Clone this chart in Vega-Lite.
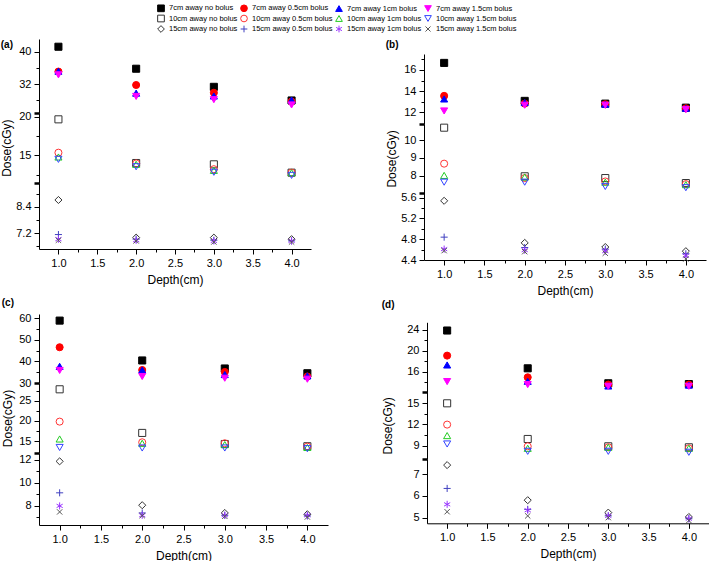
{
  "$schema": "https://vega.github.io/schema/vega-lite/v6.json",
  "padding": {"left": 0, "top": 2, "right": 0, "bottom": 0},
  "config": {
    "font": "Liberation Sans",
    "view": {"stroke": null},
    "point": {"opacity": 1, "size": 50, "strokeWidth": 1, "filled": false},
    "axis": {"grid": false, "domainColor": "#000", "tickColor": "#000", "labelColor": "#000", "titleColor": "#000",
      "labelFont": "Liberation Sans", "titleFont": "Liberation Sans", "labelFontSize": 11, "titleFontSize": 12,
      "titleFontWeight": "normal", "labelPadding": 3, "labelOverlap": false, "labelFlush": false},
    "title": {"fontSize": 10, "fontWeight": "bold", "anchor": "start", "frame": "bounds", "color": "#000"},
    "legend": {"orient": "none", "legendX": 116, "legendY": -37, "columns": 4, "direction": "horizontal", "gridAlign": "each",
      "labelFontSize": 7.5, "labelColor": "#000", "symbolSize": 45, "symbolStrokeWidth": 1, "rowPadding": -1.5, "columnPadding": 0,
      "labelOffset": 4, "padding": 2}
  },
  "data": {"values": [
    {"p":"a","s":"7cm away no bolus","x":1,"y":41.2},{"p":"a","s":"7cm away no bolus","x":2,"y":35.8},{"p":"a","s":"7cm away no bolus","x":3,"y":31.35},{"p":"a","s":"7cm away no bolus","x":4,"y":28.0},
    {"p":"a","s":"7cm away 0.5cm bolus","x":1,"y":35.1},{"p":"a","s":"7cm away 0.5cm bolus","x":2,"y":31.8},{"p":"a","s":"7cm away 0.5cm bolus","x":3,"y":29.9},{"p":"a","s":"7cm away 0.5cm bolus","x":4,"y":27.75},
    {"p":"a","s":"7cm away 1cm bolus","x":1,"y":35.2},{"p":"a","s":"7cm away 1cm bolus","x":2,"y":29.8},{"p":"a","s":"7cm away 1cm bolus","x":3,"y":29.1},{"p":"a","s":"7cm away 1cm bolus","x":4,"y":28.1},
    {"p":"a","s":"7cm away 1.5cm bolus","x":1,"y":34.3},{"p":"a","s":"7cm away 1.5cm bolus","x":2,"y":29.0},{"p":"a","s":"7cm away 1.5cm bolus","x":3,"y":28.2},{"p":"a","s":"7cm away 1.5cm bolus","x":4,"y":26.9},
    {"p":"a","s":"10cm away no bolus","x":1,"y":19.66},{"p":"a","s":"10cm away no bolus","x":2,"y":14.0},{"p":"a","s":"10cm away no bolus","x":3,"y":13.83},{"p":"a","s":"10cm away no bolus","x":4,"y":12.75},
    {"p":"a","s":"10cm away 0.5cm bolus","x":1,"y":15.34},{"p":"a","s":"10cm away 0.5cm bolus","x":2,"y":13.95},{"p":"a","s":"10cm away 0.5cm bolus","x":3,"y":13.2},{"p":"a","s":"10cm away 0.5cm bolus","x":4,"y":12.75},
    {"p":"a","s":"10cm away 1cm bolus","x":1,"y":14.78},{"p":"a","s":"10cm away 1cm bolus","x":2,"y":13.83},{"p":"a","s":"10cm away 1cm bolus","x":3,"y":13.05},{"p":"a","s":"10cm away 1cm bolus","x":4,"y":12.75},
    {"p":"a","s":"10cm away 1.5cm bolus","x":1,"y":14.48},{"p":"a","s":"10cm away 1.5cm bolus","x":2,"y":13.52},{"p":"a","s":"10cm away 1.5cm bolus","x":3,"y":12.8},{"p":"a","s":"10cm away 1.5cm bolus","x":4,"y":12.4},
    {"p":"a","s":"15cm away no bolus","x":1,"y":8.72},{"p":"a","s":"15cm away no bolus","x":2,"y":7.0},{"p":"a","s":"15cm away no bolus","x":3,"y":7.0},{"p":"a","s":"15cm away no bolus","x":4,"y":6.93},
    {"p":"a","s":"15cm away 0.5cm bolus","x":1,"y":7.14},{"p":"a","s":"15cm away 0.5cm bolus","x":2,"y":6.93},{"p":"a","s":"15cm away 0.5cm bolus","x":3,"y":6.88},{"p":"a","s":"15cm away 0.5cm bolus","x":4,"y":6.85},
    {"p":"a","s":"15cm away 1cm bolus","x":1,"y":6.93},{"p":"a","s":"15cm away 1cm bolus","x":2,"y":6.88},{"p":"a","s":"15cm away 1cm bolus","x":3,"y":6.85},{"p":"a","s":"15cm away 1cm bolus","x":4,"y":6.85},
    {"p":"a","s":"15cm away 1.5cm bolus","x":1,"y":6.88},{"p":"a","s":"15cm away 1.5cm bolus","x":2,"y":6.85},{"p":"a","s":"15cm away 1.5cm bolus","x":3,"y":6.8},{"p":"a","s":"15cm away 1.5cm bolus","x":4,"y":6.8},

    {"p":"b","s":"7cm away no bolus","x":1,"y":16.66},{"p":"b","s":"7cm away no bolus","x":2,"y":13.08},{"p":"b","s":"7cm away no bolus","x":3,"y":12.82},{"p":"b","s":"7cm away no bolus","x":4,"y":12.44},
    {"p":"b","s":"7cm away 0.5cm bolus","x":1,"y":13.55},{"p":"b","s":"7cm away 0.5cm bolus","x":2,"y":12.82},{"p":"b","s":"7cm away 0.5cm bolus","x":3,"y":12.76},{"p":"b","s":"7cm away 0.5cm bolus","x":4,"y":12.38},
    {"p":"b","s":"7cm away 1cm bolus","x":1,"y":13.26},{"p":"b","s":"7cm away 1cm bolus","x":2,"y":12.92},{"p":"b","s":"7cm away 1cm bolus","x":3,"y":12.76},{"p":"b","s":"7cm away 1cm bolus","x":4,"y":12.38},
    {"p":"b","s":"7cm away 1.5cm bolus","x":1,"y":12.13},{"p":"b","s":"7cm away 1.5cm bolus","x":2,"y":12.67},{"p":"b","s":"7cm away 1.5cm bolus","x":3,"y":12.67},{"p":"b","s":"7cm away 1.5cm bolus","x":4,"y":12.25},
    {"p":"b","s":"10cm away no bolus","x":1,"y":10.7},{"p":"b","s":"10cm away no bolus","x":2,"y":7.97},{"p":"b","s":"10cm away no bolus","x":3,"y":7.87},{"p":"b","s":"10cm away no bolus","x":4,"y":7.59},
    {"p":"b","s":"10cm away 0.5cm bolus","x":1,"y":8.68},{"p":"b","s":"10cm away 0.5cm bolus","x":2,"y":7.87},{"p":"b","s":"10cm away 0.5cm bolus","x":3,"y":7.68},{"p":"b","s":"10cm away 0.5cm bolus","x":4,"y":7.53},
    {"p":"b","s":"10cm away 1cm bolus","x":1,"y":8.02},{"p":"b","s":"10cm away 1cm bolus","x":2,"y":7.93},{"p":"b","s":"10cm away 1cm bolus","x":3,"y":7.64},{"p":"b","s":"10cm away 1cm bolus","x":4,"y":7.5},
    {"p":"b","s":"10cm away 1.5cm bolus","x":1,"y":7.64},{"p":"b","s":"10cm away 1.5cm bolus","x":2,"y":7.64},{"p":"b","s":"10cm away 1.5cm bolus","x":3,"y":7.4},{"p":"b","s":"10cm away 1.5cm bolus","x":4,"y":7.33},
    {"p":"b","s":"15cm away no bolus","x":1,"y":5.54},{"p":"b","s":"15cm away no bolus","x":2,"y":4.73},{"p":"b","s":"15cm away no bolus","x":3,"y":4.65},{"p":"b","s":"15cm away no bolus","x":4,"y":4.57},
    {"p":"b","s":"15cm away 0.5cm bolus","x":1,"y":4.84},{"p":"b","s":"15cm away 0.5cm bolus","x":2,"y":4.64},{"p":"b","s":"15cm away 0.5cm bolus","x":3,"y":4.61},{"p":"b","s":"15cm away 0.5cm bolus","x":4,"y":4.52},
    {"p":"b","s":"15cm away 1cm bolus","x":1,"y":4.61},{"p":"b","s":"15cm away 1cm bolus","x":2,"y":4.59},{"p":"b","s":"15cm away 1cm bolus","x":3,"y":4.57},{"p":"b","s":"15cm away 1cm bolus","x":4,"y":4.48},
    {"p":"b","s":"15cm away 1.5cm bolus","x":1,"y":4.58},{"p":"b","s":"15cm away 1.5cm bolus","x":2,"y":4.56},{"p":"b","s":"15cm away 1.5cm bolus","x":3,"y":4.53},{"p":"b","s":"15cm away 1.5cm bolus","x":4,"y":4.42},

    {"p":"c","s":"7cm away no bolus","x":1,"y":58.8},{"p":"c","s":"7cm away no bolus","x":2,"y":40.4},{"p":"c","s":"7cm away no bolus","x":3,"y":36.7},{"p":"c","s":"7cm away no bolus","x":4,"y":34.5},
    {"p":"c","s":"7cm away 0.5cm bolus","x":1,"y":46.5},{"p":"c","s":"7cm away 0.5cm bolus","x":2,"y":36.0},{"p":"c","s":"7cm away 0.5cm bolus","x":3,"y":35.1},{"p":"c","s":"7cm away 0.5cm bolus","x":4,"y":33.0},
    {"p":"c","s":"7cm away 1cm bolus","x":1,"y":37.7},{"p":"c","s":"7cm away 1cm bolus","x":2,"y":36.0},{"p":"c","s":"7cm away 1cm bolus","x":3,"y":33.9},{"p":"c","s":"7cm away 1cm bolus","x":4,"y":33.3},
    {"p":"c","s":"7cm away 1.5cm bolus","x":1,"y":35.8},{"p":"c","s":"7cm away 1.5cm bolus","x":2,"y":33.0},{"p":"c","s":"7cm away 1.5cm bolus","x":3,"y":32.2},{"p":"c","s":"7cm away 1.5cm bolus","x":4,"y":31.75},
    {"p":"c","s":"10cm away no bolus","x":1,"y":27.8},{"p":"c","s":"10cm away no bolus","x":2,"y":17.0},{"p":"c","s":"10cm away no bolus","x":3,"y":14.26},{"p":"c","s":"10cm away no bolus","x":4,"y":13.7},
    {"p":"c","s":"10cm away 0.5cm bolus","x":1,"y":19.8},{"p":"c","s":"10cm away 0.5cm bolus","x":2,"y":14.68},{"p":"c","s":"10cm away 0.5cm bolus","x":3,"y":14.43},{"p":"c","s":"10cm away 0.5cm bolus","x":4,"y":13.6},
    {"p":"c","s":"10cm away 1cm bolus","x":1,"y":15.5},{"p":"c","s":"10cm away 1cm bolus","x":2,"y":14.43},{"p":"c","s":"10cm away 1cm bolus","x":3,"y":14.1},{"p":"c","s":"10cm away 1cm bolus","x":4,"y":13.4},
    {"p":"c","s":"10cm away 1.5cm bolus","x":1,"y":13.4},{"p":"c","s":"10cm away 1.5cm bolus","x":2,"y":13.27},{"p":"c","s":"10cm away 1.5cm bolus","x":3,"y":13.27},{"p":"c","s":"10cm away 1.5cm bolus","x":4,"y":13.1},
    {"p":"c","s":"15cm away no bolus","x":1,"y":11.85},{"p":"c","s":"15cm away no bolus","x":2,"y":8.06},{"p":"c","s":"15cm away no bolus","x":3,"y":7.39},{"p":"c","s":"15cm away no bolus","x":4,"y":7.28},
    {"p":"c","s":"15cm away 0.5cm bolus","x":1,"y":9.13},{"p":"c","s":"15cm away 0.5cm bolus","x":2,"y":7.39},{"p":"c","s":"15cm away 0.5cm bolus","x":3,"y":7.19},{"p":"c","s":"15cm away 0.5cm bolus","x":4,"y":7.13},
    {"p":"c","s":"15cm away 1cm bolus","x":1,"y":8.0},{"p":"c","s":"15cm away 1cm bolus","x":2,"y":7.19},{"p":"c","s":"15cm away 1cm bolus","x":3,"y":7.19},{"p":"c","s":"15cm away 1cm bolus","x":4,"y":7.19},
    {"p":"c","s":"15cm away 1.5cm bolus","x":1,"y":7.48},{"p":"c","s":"15cm away 1.5cm bolus","x":2,"y":7.16},{"p":"c","s":"15cm away 1.5cm bolus","x":3,"y":7.1},{"p":"c","s":"15cm away 1.5cm bolus","x":4,"y":7.04},

    {"p":"d","s":"7cm away no bolus","x":1,"y":23.9},{"p":"d","s":"7cm away no bolus","x":2,"y":16.63},{"p":"d","s":"7cm away no bolus","x":3,"y":13.75},{"p":"d","s":"7cm away no bolus","x":4,"y":13.6},
    {"p":"d","s":"7cm away 0.5cm bolus","x":1,"y":19.07},{"p":"d","s":"7cm away 0.5cm bolus","x":2,"y":14.9},{"p":"d","s":"7cm away 0.5cm bolus","x":3,"y":13.5},{"p":"d","s":"7cm away 0.5cm bolus","x":4,"y":13.5},
    {"p":"d","s":"7cm away 1cm bolus","x":1,"y":17.27},{"p":"d","s":"7cm away 1cm bolus","x":2,"y":14.13},{"p":"d","s":"7cm away 1cm bolus","x":3,"y":13.23},{"p":"d","s":"7cm away 1cm bolus","x":4,"y":13.4},
    {"p":"d","s":"7cm away 1.5cm bolus","x":1,"y":14.08},{"p":"d","s":"7cm away 1.5cm bolus","x":2,"y":13.5},{"p":"d","s":"7cm away 1.5cm bolus","x":3,"y":13.17},{"p":"d","s":"7cm away 1.5cm bolus","x":4,"y":13.17},
    {"p":"d","s":"10cm away no bolus","x":1,"y":15.0},{"p":"d","s":"10cm away no bolus","x":2,"y":9.94},{"p":"d","s":"10cm away no bolus","x":3,"y":8.9},{"p":"d","s":"10cm away no bolus","x":4,"y":8.76},
    {"p":"d","s":"10cm away 0.5cm bolus","x":1,"y":11.98},{"p":"d","s":"10cm away 0.5cm bolus","x":2,"y":8.9},{"p":"d","s":"10cm away 0.5cm bolus","x":3,"y":8.76},{"p":"d","s":"10cm away 0.5cm bolus","x":4,"y":8.62},
    {"p":"d","s":"10cm away 1cm bolus","x":1,"y":10.42},{"p":"d","s":"10cm away 1cm bolus","x":2,"y":8.62},{"p":"d","s":"10cm away 1cm bolus","x":3,"y":8.76},{"p":"d","s":"10cm away 1cm bolus","x":4,"y":8.62},
    {"p":"d","s":"10cm away 1.5cm bolus","x":1,"y":9.23},{"p":"d","s":"10cm away 1.5cm bolus","x":2,"y":8.19},{"p":"d","s":"10cm away 1.5cm bolus","x":3,"y":8.19},{"p":"d","s":"10cm away 1.5cm bolus","x":4,"y":8.05},
    {"p":"d","s":"15cm away no bolus","x":1,"y":7.41},{"p":"d","s":"15cm away no bolus","x":2,"y":5.8},{"p":"d","s":"15cm away no bolus","x":3,"y":5.23},{"p":"d","s":"15cm away no bolus","x":4,"y":5.03},
    {"p":"d","s":"15cm away 0.5cm bolus","x":1,"y":6.34},{"p":"d","s":"15cm away 0.5cm bolus","x":2,"y":5.38},{"p":"d","s":"15cm away 0.5cm bolus","x":3,"y":5.08},{"p":"d","s":"15cm away 0.5cm bolus","x":4,"y":4.95},
    {"p":"d","s":"15cm away 1cm bolus","x":1,"y":5.61},{"p":"d","s":"15cm away 1cm bolus","x":2,"y":5.34},{"p":"d","s":"15cm away 1cm bolus","x":3,"y":5.08},{"p":"d","s":"15cm away 1cm bolus","x":4,"y":4.95},
    {"p":"d","s":"15cm away 1.5cm bolus","x":1,"y":5.27},{"p":"d","s":"15cm away 1.5cm bolus","x":2,"y":5.08},{"p":"d","s":"15cm away 1.5cm bolus","x":3,"y":5.0},{"p":"d","s":"15cm away 1.5cm bolus","x":4,"y":4.87}
  ]},
  "spacing": 2,
  "vconcat": [
    {
      "spacing": 74,
      "hconcat": [
        {
          "title": {"text": "(a)", "offset": -11},
          "width": 272, "height": 210,
          "transform": [{"filter": "datum.p == 'a'"}],
          "encoding": {
            "x": {"field": "x", "type": "quantitative", "title": "Depth(cm)", "scale": {"domain": [0.75, 4.25], "nice": false, "zero": false},
              "axis": {"values": [1, 1.25, 1.5, 1.75, 2, 2.25, 2.5, 2.75, 3, 3.25, 3.5, 3.75, 4], "format": ".1f", "titlePadding": 6,
                "labelExpr": "datum.value * 2 == round(datum.value * 2) ? datum.label : ''",
                "tickSize": {"condition": {"test": "datum.value * 2 == round(datum.value * 2)", "value": 5}, "value": 3}}},
            "shape": {"field": "s", "type": "nominal", "title": null, "scale": {"domain": ["7cm away no bolus", "7cm away 0.5cm bolus", "7cm away 1cm bolus", "7cm away 1.5cm bolus", "10cm away no bolus", "10cm away 0.5cm bolus", "10cm away 1cm bolus", "10cm away 1.5cm bolus", "15cm away no bolus", "15cm away 0.5cm bolus", "15cm away 1cm bolus", "15cm away 1.5cm bolus"],
              "range": ["square", "circle", "triangle-up", "triangle-down", "square", "circle", "triangle-up", "triangle-down", "diamond", "M-1,0L1,0M0,-1L0,1", "M0,-1L0,1M-0.87,-0.5L0.87,0.5M-0.87,0.5L0.87,-0.5", "M-0.75,-0.75L0.75,0.75M-0.75,0.75L0.75,-0.75"]}},
            "fill": {"field": "s", "type": "nominal", "title": null, "scale": {"domain": ["7cm away no bolus", "7cm away 0.5cm bolus", "7cm away 1cm bolus", "7cm away 1.5cm bolus", "10cm away no bolus", "10cm away 0.5cm bolus", "10cm away 1cm bolus", "10cm away 1.5cm bolus", "15cm away no bolus", "15cm away 0.5cm bolus", "15cm away 1cm bolus", "15cm away 1.5cm bolus"],
              "range": ["#000000", "#ff0000", "#0000ff", "#ff00ff", "transparent", "transparent", "transparent", "transparent", "transparent", "transparent", "transparent", "transparent"]}},
            "stroke": {"field": "s", "type": "nominal", "title": null, "scale": {"domain": ["7cm away no bolus", "7cm away 0.5cm bolus", "7cm away 1cm bolus", "7cm away 1.5cm bolus", "10cm away no bolus", "10cm away 0.5cm bolus", "10cm away 1cm bolus", "10cm away 1.5cm bolus", "15cm away no bolus", "15cm away 0.5cm bolus", "15cm away 1cm bolus", "15cm away 1.5cm bolus"],
              "range": ["#000000", "#ff0000", "#0000ff", "#ff00ff", "#333333", "#ff3333", "#22cc22", "#3344ff", "#333333", "#4040c0", "#9933ff", "#555555"]}}
          },
          "layer": [
            {"transform": [{"filter": "indexof(datum.s, '7cm') == 0"}], "mark": "point",
              "encoding": {"y": {"field": "y", "type": "quantitative", "scale": {"domain": [25, 43.1], "range": [73.7, 0], "nice": false, "zero": false},
                "axis": {"orient": "left", "title": null, "values": [25, 28, 32, 36, 40], "format": "d",
                  "labelExpr": "indexof([32, 40], datum.value) >= 0 ? datum.label : ''",
                  "tickSize": {"condition": {"test": "indexof([25, 32, 40], datum.value) >= 0", "value": 5}, "value": 3},
                  "tickWidth": {"condition": {"test": "datum.value == 25", "value": 2.5}, "value": 1}}}}},
            {"transform": [{"filter": "indexof(datum.s, '10cm') == 0"}], "mark": "point",
              "encoding": {"y": {"field": "y", "type": "quantitative", "scale": {"domain": [11.45, 20.52], "range": [143.7, 73.7], "nice": false, "zero": false},
                "axis": {"orient": "left", "title": "Dose(cGy)", "titlePadding": 5, "values": [11.45, 12.5, 15, 17.5, 20], "format": "d",
                  "labelExpr": "indexof([15, 20], datum.value) >= 0 ? datum.label : ''",
                  "tickSize": {"condition": {"test": "indexof([11.45, 15, 20], datum.value) >= 0", "value": 5}, "value": 3},
                  "tickWidth": {"condition": {"test": "datum.value == 11.45", "value": 2.5}, "value": 1}}}}},
            {"transform": [{"filter": "indexof(datum.s, '15cm') == 0"}], "mark": "point",
              "encoding": {"y": {"field": "y", "type": "quantitative", "scale": {"domain": [6.48, 9.51], "range": [210, 143.7], "nice": false, "zero": false},
                "axis": {"orient": "left", "title": null, "values": [6.6, 7.2, 7.8, 8.4, 9.0], "format": ".1f",
                  "labelExpr": "indexof([7.2, 8.4], datum.value) >= 0 ? datum.label : ''",
                  "tickSize": {"condition": {"test": "indexof([7.2, 8.4], datum.value) >= 0", "value": 5}, "value": 3}}}}}
          ],
          "resolve": {"scale": {"y": "independent"}}
        },
        {
          "title": {"text": "(b)", "offset": -11},
          "width": 282, "height": 221,
          "transform": [{"filter": "datum.p == 'b'"}],
          "encoding": {
            "x": {"field": "x", "type": "quantitative", "title": "Depth(cm)", "scale": {"domain": [0.75, 4.25], "nice": false, "zero": false},
              "axis": {"values": [1, 1.25, 1.5, 1.75, 2, 2.25, 2.5, 2.75, 3, 3.25, 3.5, 3.75, 4], "format": ".1f", "titlePadding": 6,
                "labelExpr": "datum.value * 2 == round(datum.value * 2) ? datum.label : ''",
                "tickSize": {"condition": {"test": "datum.value * 2 == round(datum.value * 2)", "value": 5}, "value": 3}}},
            "shape": {"field": "s", "type": "nominal", "title": null, "scale": {"domain": ["7cm away no bolus", "7cm away 0.5cm bolus", "7cm away 1cm bolus", "7cm away 1.5cm bolus", "10cm away no bolus", "10cm away 0.5cm bolus", "10cm away 1cm bolus", "10cm away 1.5cm bolus", "15cm away no bolus", "15cm away 0.5cm bolus", "15cm away 1cm bolus", "15cm away 1.5cm bolus"],
              "range": ["square", "circle", "triangle-up", "triangle-down", "square", "circle", "triangle-up", "triangle-down", "diamond", "M-1,0L1,0M0,-1L0,1", "M0,-1L0,1M-0.87,-0.5L0.87,0.5M-0.87,0.5L0.87,-0.5", "M-0.75,-0.75L0.75,0.75M-0.75,0.75L0.75,-0.75"]}},
            "fill": {"field": "s", "type": "nominal", "title": null, "scale": {"domain": ["7cm away no bolus", "7cm away 0.5cm bolus", "7cm away 1cm bolus", "7cm away 1.5cm bolus", "10cm away no bolus", "10cm away 0.5cm bolus", "10cm away 1cm bolus", "10cm away 1.5cm bolus", "15cm away no bolus", "15cm away 0.5cm bolus", "15cm away 1cm bolus", "15cm away 1.5cm bolus"],
              "range": ["#000000", "#ff0000", "#0000ff", "#ff00ff", "transparent", "transparent", "transparent", "transparent", "transparent", "transparent", "transparent", "transparent"]}},
            "stroke": {"field": "s", "type": "nominal", "title": null, "scale": {"domain": ["7cm away no bolus", "7cm away 0.5cm bolus", "7cm away 1cm bolus", "7cm away 1.5cm bolus", "10cm away no bolus", "10cm away 0.5cm bolus", "10cm away 1cm bolus", "10cm away 1.5cm bolus", "15cm away no bolus", "15cm away 0.5cm bolus", "15cm away 1cm bolus", "15cm away 1.5cm bolus"],
              "range": ["#000000", "#ff0000", "#0000ff", "#ff00ff", "#333333", "#ff3333", "#22cc22", "#3344ff", "#333333", "#4040c0", "#9933ff", "#555555"]}}
          },
          "layer": [
            {"transform": [{"filter": "indexof(datum.s, '7cm') == 0"}], "mark": "point",
              "encoding": {"y": {"field": "y", "type": "quantitative", "scale": {"domain": [10.87, 17.5], "range": [85.3, 15], "nice": false, "zero": false},
                "axis": {"orient": "left", "title": null, "values": [10.87, 12, 13, 14, 15, 16, 17], "format": "d",
                  "labelExpr": "indexof([12, 14, 16], datum.value) >= 0 ? datum.label : ''",
                  "tickSize": {"condition": {"test": "indexof([10.87, 12, 14, 16], datum.value) >= 0", "value": 5}, "value": 3},
                  "tickWidth": {"condition": {"test": "datum.value == 10.87", "value": 2.5}, "value": 1}}}}},
            {"transform": [{"filter": "indexof(datum.s, '10cm') == 0"}], "mark": "point",
              "encoding": {"y": {"field": "y", "type": "quantitative", "scale": {"domain": [7.06, 10.89], "range": [153.5, 85.3], "nice": false, "zero": false},
                "axis": {"orient": "left", "title": "Dose(cGy)", "titlePadding": 5, "values": [7.06, 7.5, 8, 8.5, 9, 9.5, 10, 10.5], "format": "d",
                  "labelExpr": "indexof([8, 9, 10], datum.value) >= 0 ? datum.label : ''",
                  "tickSize": {"condition": {"test": "indexof([7.06, 8, 9, 10], datum.value) >= 0", "value": 5}, "value": 3},
                  "tickWidth": {"condition": {"test": "datum.value == 7.06", "value": 2.5}, "value": 1}}}}},
            {"transform": [{"filter": "indexof(datum.s, '15cm') == 0"}], "mark": "point",
              "encoding": {"y": {"field": "y", "type": "quantitative", "scale": {"domain": [4.4, 5.7], "range": [221, 153.5], "nice": false, "zero": false},
                "axis": {"orient": "left", "title": null, "values": [4.4, 4.6, 4.8, 5.0, 5.2, 5.4, 5.6], "format": ".1f",
                  "labelExpr": "indexof([4.4, 4.8, 5.2, 5.6], datum.value) >= 0 ? datum.label : ''",
                  "tickSize": {"condition": {"test": "indexof([4.4, 4.8, 5.2, 5.6], datum.value) >= 0", "value": 5}, "value": 3}}}}}
          ],
          "resolve": {"scale": {"y": "independent"}}
        }
      ]
    },
    {
      "spacing": 53,
      "hconcat": [
        {
          "title": {"text": "(c)", "offset": 4},
          "width": 289, "height": 211,
          "transform": [{"filter": "datum.p == 'c'"}],
          "encoding": {
            "x": {"field": "x", "type": "quantitative", "title": "Depth(cm)", "scale": {"domain": [0.75, 4.25], "nice": false, "zero": false},
              "axis": {"values": [1, 1.25, 1.5, 1.75, 2, 2.25, 2.5, 2.75, 3, 3.25, 3.5, 3.75, 4], "format": ".1f", "titlePadding": 6,
                "labelExpr": "datum.value * 2 == round(datum.value * 2) ? datum.label : ''",
                "tickSize": {"condition": {"test": "datum.value * 2 == round(datum.value * 2)", "value": 5}, "value": 3}}},
            "shape": {"field": "s", "type": "nominal", "title": null, "scale": {"domain": ["7cm away no bolus", "7cm away 0.5cm bolus", "7cm away 1cm bolus", "7cm away 1.5cm bolus", "10cm away no bolus", "10cm away 0.5cm bolus", "10cm away 1cm bolus", "10cm away 1.5cm bolus", "15cm away no bolus", "15cm away 0.5cm bolus", "15cm away 1cm bolus", "15cm away 1.5cm bolus"],
              "range": ["square", "circle", "triangle-up", "triangle-down", "square", "circle", "triangle-up", "triangle-down", "diamond", "M-1,0L1,0M0,-1L0,1", "M0,-1L0,1M-0.87,-0.5L0.87,0.5M-0.87,0.5L0.87,-0.5", "M-0.75,-0.75L0.75,0.75M-0.75,0.75L0.75,-0.75"]}},
            "fill": {"field": "s", "type": "nominal", "title": null, "scale": {"domain": ["7cm away no bolus", "7cm away 0.5cm bolus", "7cm away 1cm bolus", "7cm away 1.5cm bolus", "10cm away no bolus", "10cm away 0.5cm bolus", "10cm away 1cm bolus", "10cm away 1.5cm bolus", "15cm away no bolus", "15cm away 0.5cm bolus", "15cm away 1cm bolus", "15cm away 1.5cm bolus"],
              "range": ["#000000", "#ff0000", "#0000ff", "#ff00ff", "transparent", "transparent", "transparent", "transparent", "transparent", "transparent", "transparent", "transparent"]}},
            "stroke": {"field": "s", "type": "nominal", "title": null, "scale": {"domain": ["7cm away no bolus", "7cm away 0.5cm bolus", "7cm away 1cm bolus", "7cm away 1.5cm bolus", "10cm away no bolus", "10cm away 0.5cm bolus", "10cm away 1cm bolus", "10cm away 1.5cm bolus", "15cm away no bolus", "15cm away 0.5cm bolus", "15cm away 1cm bolus", "15cm away 1.5cm bolus"],
              "range": ["#000000", "#ff0000", "#0000ff", "#ff00ff", "#333333", "#ff3333", "#22cc22", "#3344ff", "#333333", "#4040c0", "#9933ff", "#555555"]}}
          },
          "layer": [
            {"transform": [{"filter": "indexof(datum.s, '7cm') == 0"}], "mark": "point",
              "encoding": {"y": {"field": "y", "type": "quantitative", "scale": {"domain": [30, 61.85], "range": [69, 0], "nice": false, "zero": false},
                "axis": {"orient": "left", "title": null, "values": [30, 35, 40, 45, 50, 55, 60], "format": "d",
                  "labelExpr": "indexof([30, 40, 50, 60], datum.value) >= 0 ? datum.label : ''",
                  "tickSize": {"condition": {"test": "indexof([30, 40, 50, 60], datum.value) >= 0", "value": 5}, "value": 3},
                  "tickWidth": {"condition": {"test": "datum.value == 30", "value": 2.5}, "value": 1}}}}},
            {"transform": [{"filter": "indexof(datum.s, '10cm') == 0"}], "mark": "point",
              "encoding": {"y": {"field": "y", "type": "quantitative", "scale": {"domain": [12.03, 29.36], "range": [139, 69], "nice": false, "zero": false},
                "axis": {"orient": "left", "title": "Dose(cGy)", "titlePadding": 4, "values": [12.03, 15, 17.5, 20, 22.5, 25, 27.5], "format": "d",
                  "labelExpr": "indexof([15, 20, 25], datum.value) >= 0 ? datum.label : ''",
                  "tickSize": {"condition": {"test": "indexof([12.03, 15, 20, 25], datum.value) >= 0", "value": 5}, "value": 3},
                  "tickWidth": {"condition": {"test": "datum.value == 12.03", "value": 2.5}, "value": 1}}}}},
            {"transform": [{"filter": "indexof(datum.s, '15cm') == 0"}], "mark": "point",
              "encoding": {"y": {"field": "y", "type": "quantitative", "scale": {"domain": [6.35, 12.57], "range": [211, 139], "nice": false, "zero": false},
                "axis": {"orient": "left", "title": null, "values": [7, 8, 9, 10, 11, 12], "format": "d",
                  "labelExpr": "indexof([8, 10, 12], datum.value) >= 0 ? datum.label : ''",
                  "tickSize": {"condition": {"test": "indexof([8, 10, 12], datum.value) >= 0", "value": 5}, "value": 3}}}}}
          ],
          "resolve": {"scale": {"y": "independent"}}
        },
        {
          "title": {"text": "(d)", "offset": 4},
          "width": 282, "height": 209.3,
          "transform": [{"filter": "datum.p == 'd'"}],
          "encoding": {
            "x": {"field": "x", "type": "quantitative", "title": "Depth(cm)", "scale": {"domain": [0.75, 4.25], "nice": false, "zero": false},
              "axis": {"values": [1, 1.25, 1.5, 1.75, 2, 2.25, 2.5, 2.75, 3, 3.25, 3.5, 3.75, 4], "format": ".1f", "titlePadding": 6,
                "labelExpr": "datum.value * 2 == round(datum.value * 2) ? datum.label : ''",
                "tickSize": {"condition": {"test": "datum.value * 2 == round(datum.value * 2)", "value": 5}, "value": 3}}},
            "shape": {"field": "s", "type": "nominal", "title": null, "scale": {"domain": ["7cm away no bolus", "7cm away 0.5cm bolus", "7cm away 1cm bolus", "7cm away 1.5cm bolus", "10cm away no bolus", "10cm away 0.5cm bolus", "10cm away 1cm bolus", "10cm away 1.5cm bolus", "15cm away no bolus", "15cm away 0.5cm bolus", "15cm away 1cm bolus", "15cm away 1.5cm bolus"],
              "range": ["square", "circle", "triangle-up", "triangle-down", "square", "circle", "triangle-up", "triangle-down", "diamond", "M-1,0L1,0M0,-1L0,1", "M0,-1L0,1M-0.87,-0.5L0.87,0.5M-0.87,0.5L0.87,-0.5", "M-0.75,-0.75L0.75,0.75M-0.75,0.75L0.75,-0.75"]}},
            "fill": {"field": "s", "type": "nominal", "title": null, "scale": {"domain": ["7cm away no bolus", "7cm away 0.5cm bolus", "7cm away 1cm bolus", "7cm away 1.5cm bolus", "10cm away no bolus", "10cm away 0.5cm bolus", "10cm away 1cm bolus", "10cm away 1.5cm bolus", "15cm away no bolus", "15cm away 0.5cm bolus", "15cm away 1cm bolus", "15cm away 1.5cm bolus"],
              "range": ["#000000", "#ff0000", "#0000ff", "#ff00ff", "transparent", "transparent", "transparent", "transparent", "transparent", "transparent", "transparent", "transparent"]}},
            "stroke": {"field": "s", "type": "nominal", "title": null, "scale": {"domain": ["7cm away no bolus", "7cm away 0.5cm bolus", "7cm away 1cm bolus", "7cm away 1.5cm bolus", "10cm away no bolus", "10cm away 0.5cm bolus", "10cm away 1cm bolus", "10cm away 1.5cm bolus", "15cm away no bolus", "15cm away 0.5cm bolus", "15cm away 1cm bolus", "15cm away 1.5cm bolus"],
              "range": ["#000000", "#ff0000", "#0000ff", "#ff00ff", "#333333", "#ff3333", "#22cc22", "#3344ff", "#333333", "#4040c0", "#9933ff", "#555555"]}}
          },
          "layer": [
            {"transform": [{"filter": "indexof(datum.s, '7cm') == 0"}], "mark": "point",
              "encoding": {"y": {"field": "y", "type": "quantitative", "scale": {"domain": [12.15, 25.48], "range": [77.6, 8.3], "nice": false, "zero": false},
                "axis": {"orient": "left", "title": null, "values": [12.15, 14, 16, 18, 20, 22, 24], "format": "d",
                  "labelExpr": "indexof([16, 20, 24], datum.value) >= 0 ? datum.label : ''",
                  "tickSize": {"condition": {"test": "indexof([12.15, 16, 20, 24], datum.value) >= 0", "value": 5}, "value": 3},
                  "tickWidth": {"condition": {"test": "datum.value == 12.15", "value": 2.5}, "value": 1}}}}},
            {"transform": [{"filter": "indexof(datum.s, '10cm') == 0"}], "mark": "point",
              "encoding": {"y": {"field": "y", "type": "quantitative", "scale": {"domain": [7.1, 16.66], "range": [145, 77.6], "nice": false, "zero": false},
                "axis": {"orient": "left", "title": "Dose(cGy)", "titlePadding": 12, "values": [7.1, 9, 10.5, 12, 13.5, 15], "format": "d",
                  "labelExpr": "indexof([9, 12, 15], datum.value) >= 0 ? datum.label : ''",
                  "tickSize": {"condition": {"test": "indexof([7.1, 9, 12, 15], datum.value) >= 0", "value": 5}, "value": 3},
                  "tickWidth": {"condition": {"test": "datum.value == 7.1", "value": 2.5}, "value": 1}}}}},
            {"transform": [{"filter": "indexof(datum.s, '15cm') == 0"}], "mark": "point",
              "encoding": {"y": {"field": "y", "type": "quantitative", "scale": {"domain": [4.74, 7.69], "range": [209.3, 145], "nice": false, "zero": false},
                "axis": {"orient": "left", "title": null, "values": [5, 5.5, 6, 6.5, 7, 7.5], "format": "d",
                  "labelExpr": "indexof([5, 6, 7], datum.value) >= 0 ? datum.label : ''",
                  "tickSize": {"condition": {"test": "indexof([5, 6, 7], datum.value) >= 0", "value": 5}, "value": 3}}}}}
          ],
          "resolve": {"scale": {"y": "independent"}}
        }
      ]
    }
  ]
}
